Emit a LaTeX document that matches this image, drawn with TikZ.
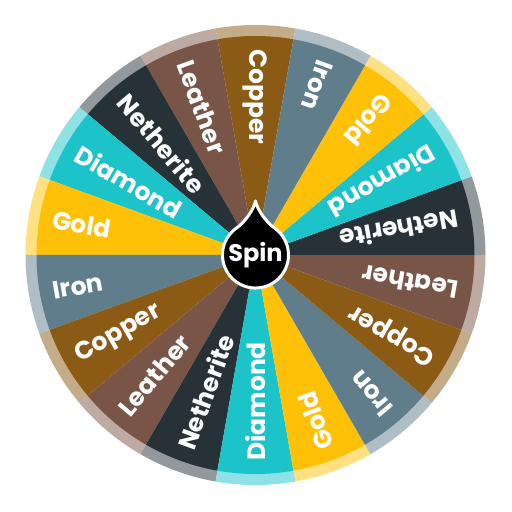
\documentclass[tikz,border=0pt]{standalone}
\usepackage{fontspec}
\setmainfont{Poppins}
\definecolor{Copper}{HTML}{8B5A14}
\definecolor{Leather}{HTML}{795548}
\definecolor{Netherite}{HTML}{263238}
\definecolor{Diamond}{HTML}{1CC4CA}
\definecolor{Gold}{HTML}{FFC107}
\definecolor{Iron}{HTML}{607D8B}
\tikzset{
  slicetext/.style = {anchor=west, inner sep=0pt, text=white, font=\fontsize{25}{25}\selectfont\bfseries},
  drop/.style = {fill=black, draw=white, line width=3pt, line join=round}
}
\begin{document}
\begin{tikzpicture}[x=1pt, y=1pt]
\useasboundingbox (0,0) rectangle (512,512);
\coordinate (hub) at (255.5,257);
% wheel slices, counterclockwise from the top
\foreach \name [count=\i from 0] in {Copper,Leather,Netherite,Diamond,Gold,Iron,Copper,Leather,Netherite,Diamond,Gold,Iron,Copper,Leather,Netherite,Diamond,Gold,Iron}{
  \pgfmathsetmacro\a{90+20*\i}
  \fill[\name!50] (hub) -- ++(\a-10:230) arc[start angle=\a-10, end angle=\a+10, radius=230] -- cycle;
  \fill[\name] (hub) -- ++(\a-10:219) arc[start angle=\a-10, end angle=\a+10, radius=219] -- cycle;
  \node[slicetext, rotate=\a+180] (txt\i) at ([shift={(\a:206)}]hub) {\name};
}
% spin button
\begin{scope}[shift={(hub)}]
\draw[drop] (0,54) .. controls (2,44) and (12.3,31.6) .. (18.9,27.0)
  arc[start angle=55, end angle=-235, radius=33]
  .. controls (-12.3,31.6) and (-2,44) .. (0,54) -- cycle;
\end{scope}
\node[text=white, font=\fontsize{24}{24}\selectfont\bfseries] (spin) at (hub) {Spin};
\end{tikzpicture}
\end{document}
